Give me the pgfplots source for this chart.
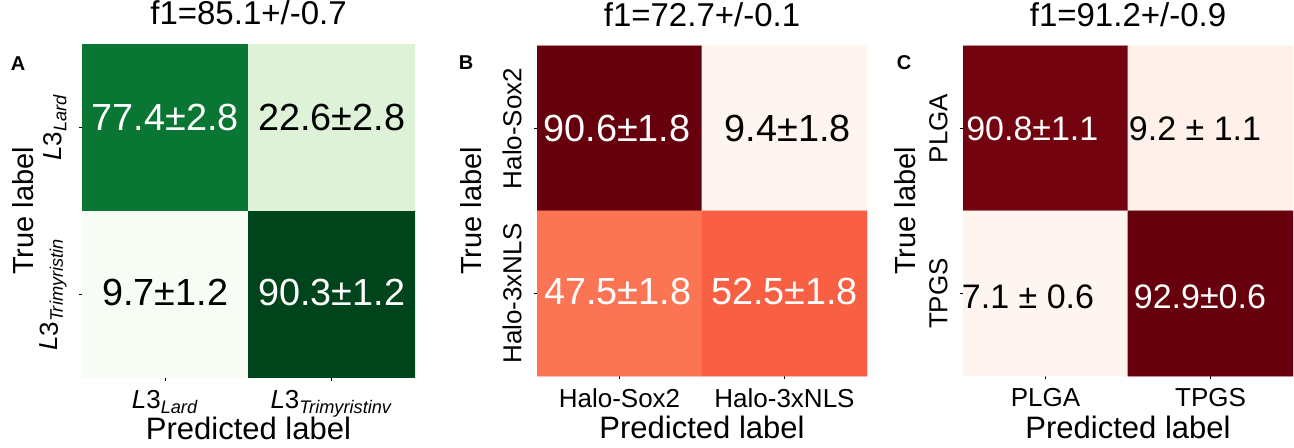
\documentclass[border=0pt]{standalone}
\usepackage{fontspec}
\setmainfont{Liberation Sans}
\usepackage{pgfplots}
\pgfplotsset{compat=1.18}
\pgfplotsset{
  colormap={mgreens}{rgb255=(247,252,245) rgb255=(229,245,224) rgb255=(199,233,192) rgb255=(161,217,155) rgb255=(116,196,118) rgb255=(65,171,93) rgb255=(35,139,69) rgb255=(0,109,44) rgb255=(0,68,27)},
  colormap={mreds}{rgb255=(255,245,240) rgb255=(254,224,210) rgb255=(252,187,161) rgb255=(252,146,114) rgb255=(251,106,74) rgb255=(239,59,44) rgb255=(203,24,29) rgb255=(165,15,21) rgb255=(103,0,13)},
  cm/.style={
    scale only axis, anchor=south west,
    y dir=reverse, xmin=-0.5, xmax=1.5, ymin=-0.5, ymax=1.5,
    xtick={0,1}, ytick={0,1},
    tick align=outside, xtick pos=bottom, ytick pos=left,
    major tick length=1.5pt, tick style={black, line width=0.6pt},
    axis line style={draw=none},
    title style={at={(axis description cs:0.5,1)}, anchor=base, yshift=3.5pt, font=\fontsize{16.5}{18}\selectfont},
    xlabel style={at={(axis description cs:0.5,0)}, anchor=base, yshift=-31pt, font=\fontsize{15.5}{17}\selectfont},
    ylabel style={anchor=base, font=\fontsize{14.5}{16}\selectfont},
    xticklabel style={anchor=north, inner sep=0pt, font=\fontsize{13}{15}\selectfont},
    yticklabel style={rotate=90, anchor=south, inner sep=0pt, font=\fontsize{13}{15}\selectfont},
    xticklabel shift=4.5pt, yticklabel shift=6pt,
    xlabel={Predicted label}, ylabel={True label},
  },
}
\tikzset{cell/.style={font=\fontsize{18.9}{21}\selectfont, inner sep=0pt},
  cellc/.style={font=\fontsize{17}{20}\selectfont, inner sep=0pt}}
\begin{document}
\begin{tikzpicture}
\path[use as bounding box] (0,0) rectangle (647pt,224pt);

% Panel A
\begin{axis}[cm, at={(41pt,35pt)}, width=166.5pt, height=167pt,
  colormap name=mgreens, point meta min=9.7, point meta max=90.3,
  title={f1=85.1+/-0.7},
  ylabel style={at={(axis description cs:-0.147,0.5)}},
  xticklabels={\textit{L}3\textsubscript{\textit{Lard}}, \textit{L}3\textsubscript{\textit{Trimyristinv}}},
  yticklabels={\textit{L}3\textsubscript{\textit{Lard}}, \textit{L}3\textsubscript{\textit{Trimyristin}}}]
\addplot[matrix plot*, mesh/cols=2, point meta=explicit] table[meta=c] {
x y c
0 0 77.4
1 0 22.6
0 1 9.7
1 1 90.3
};
\node[cell, text=white] at (axis cs:0,-0.06) {77.4±2.8};
\node[cell, text=black] at (axis cs:1,-0.06) {22.6±2.8};
\node[cell, text=black] at (axis cs:0,0.99) {9.7±1.2};
\node[cell, text=white] at (axis cs:1,0.99) {90.3±1.2};
\end{axis}

% Panel B
\begin{axis}[cm, at={(268.5pt,36pt)}, width=165pt, height=165pt,
  colormap name=mreds, point meta min=9.4, point meta max=90.6,
  title={f1=72.7+/-0.1},
  ylabel style={at={(axis description cs:-0.167,0.5)}},
  xticklabels={Halo-Sox2, Halo-3xNLS},
  yticklabels={Halo-Sox2, Halo-3xNLS}]
\addplot[matrix plot*, mesh/cols=2, point meta=explicit] table[meta=c] {
x y c
0 0 90.6
1 0 9.4
0 1 47.5
1 1 52.5
};
\node[cell, text=white] at (axis cs:-0.015,0) {90.6±1.8};
\node[cell, text=black] at (axis cs:1.02,0) {9.4±1.8};
\node[cell, text=white] at (axis cs:-0.01,0.99) {47.5±1.8};
\node[cell, text=white] at (axis cs:1.0,0.99) {52.5±1.8};
\end{axis}

% Panel C
\begin{axis}[cm, at={(481.5pt,36pt)}, width=165pt, height=165pt,
  colormap name=mreds, point meta min=7.1, point meta max=92.9,
  title={f1=91.2+/-0.9},
  ylabel style={at={(axis description cs:-0.145,0.5)}},
  xticklabels={PLGA, TPGS},
  yticklabels={PLGA, TPGS}]
\addplot[matrix plot*, mesh/cols=2, point meta=explicit] table[meta=c] {
x y c
0 0 90.8
1 0 9.2
0 1 7.1
1 1 92.9
};
\node[cellc, text=white] at (axis cs:-0.08,0) {90.8±1.1};
\node[cellc, text=black] at (axis cs:0.906,0) {9.2 ± 1.1};
\node[cellc, text=black] at (axis cs:-0.106,1.02) {7.1 ± 0.6};
\node[cellc, text=white] at (axis cs:0.936,1.02) {92.9±0.6};
\end{axis}

\node[font=\bfseries\fontsize{10}{12}\selectfont, anchor=base] at (9pt,188.5pt) {A};
\node[font=\bfseries\fontsize{10}{12}\selectfont, anchor=base] at (233pt,189pt) {B};
\node[font=\bfseries\fontsize{10}{12}\selectfont, anchor=base] at (452pt,189pt) {C};
\end{tikzpicture}
\end{document}
